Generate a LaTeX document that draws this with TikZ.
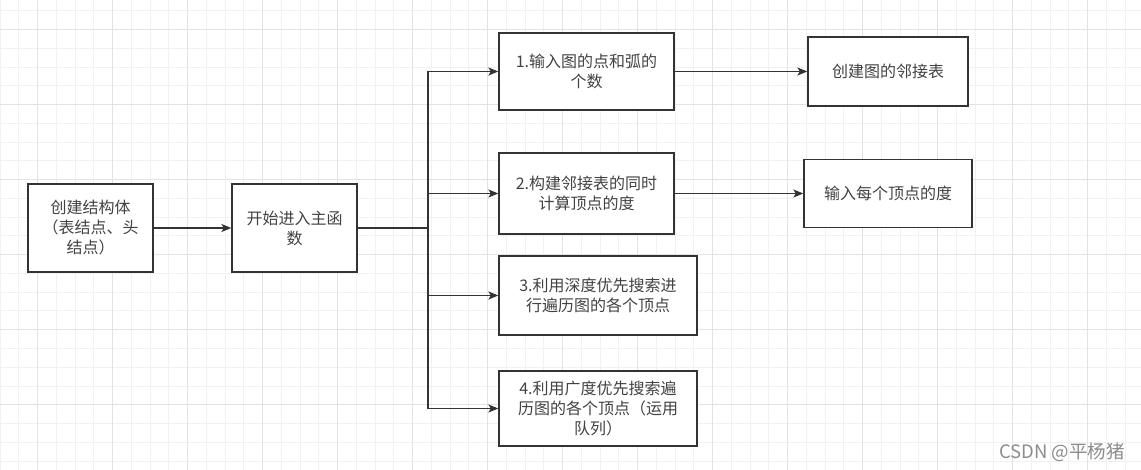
\documentclass[tikz,border=0pt]{standalone}
\usepackage{fontspec}
\setmainfont{Noto Sans CJK SC}
\usetikzlibrary{arrows.meta}
\definecolor{minorg}{HTML}{F1F1F1}
\definecolor{majorg}{HTML}{E3E3E3}
\definecolor{ink}{HTML}{333333}
\definecolor{txt}{HTML}{424242}
\definecolor{wm}{HTML}{8C8C8C}
\tikzset{
  box/.style={draw=ink, line width=1.3pt, fill=white, inner sep=0pt, align=center,
    text=txt, font=\fontsize{16pt}{20pt}\selectfont},
  conn/.style={draw=ink, line width=1.3pt},
  arr/.style={conn, -{Stealth[length=10pt,width=8pt,inset=2.5pt]}},
  minorline/.style={draw=minorg, line width=1pt},
  majorline/.style={draw=majorg, line width=1pt},
}
\begin{document}
\begin{tikzpicture}[x=1pt,y=-1pt]
\useasboundingbox (0,0) rectangle (1141,470);
\fill[white] (0,0) rectangle (1141,470);
% grid
\foreach \i in {0,...,60}{\pgfmathsetmacro\xx{0.2+18.75*\i}\draw[minorline] (\xx,0) -- (\xx,470);}
\foreach \j in {0,...,24}{\pgfmathsetmacro\yy{11+18.75*\j}\draw[minorline] (0,\yy) -- (1141,\yy);}
\foreach \i in {0,...,14}{\pgfmathsetmacro\xx{37.7+75*\i}\draw[majorline] (\xx,0) -- (\xx,470);}
\foreach \j in {0,...,5}{\pgfmathsetmacro\yy{29.75+75*\j}\draw[majorline] (0,\yy) -- (1141,\yy);}

% nodes
\node[box, minimum width=125pt, minimum height=88pt] (a) at (90.5,228) {创建结构体\\（表结点、头\\结点）};
\node[box, minimum width=125pt, minimum height=88pt] (b) at (294.5,228) {开始进入主函\\数};
\node[box, minimum width=175pt, minimum height=77pt] (b1) at (586.5,71.5) {1.输入图的点和弧的\\个数};
\node[box, minimum width=175pt, minimum height=81pt] (b2) at (586.5,193.5) {2.构建邻接表的同时\\计算顶点的度};
\node[box, minimum width=198pt, minimum height=79pt] (b3) at (598,295.5) {3.利用深度优先搜索进\\行遍历图的各个顶点};
\node[box, minimum width=198pt, minimum height=75pt] (b4) at (598,408.5) {4.利用广度优先搜索遍\\历图的各个顶点（运用\\队列）};
\node[box, minimum width=160pt, minimum height=69pt] (c1) at (888,71.5) {创建图的邻接表};
\node[box, minimum width=168pt, minimum height=68pt] (c2) at (888,193.5) {输入每个顶点的度};

% connectors
\coordinate (j) at (428,228);
\draw[arr] (a.east) -- (b.west);
\draw[conn] (b.east) -- (j);
\draw[conn] (j |- b1.west) -- (j |- b4.west);
\draw[arr] (j |- b1.west) -- (b1.west);
\draw[arr] (j |- b2.west) -- (b2.west);
\draw[arr] (j |- b3.west) -- (b3.west);
\draw[arr] (j |- b4.west) -- (b4.west);
\draw[arr] (b1.east) -- (c1.west);
\draw[arr] (b2.east) -- (c2.west);

% watermark
\node[anchor=east, inner sep=0pt, text=wm, font=\fontsize{18.5pt}{20pt}\selectfont] (w) at (1125,452) {CSDN @平杨猪};
\end{tikzpicture}
\end{document}
